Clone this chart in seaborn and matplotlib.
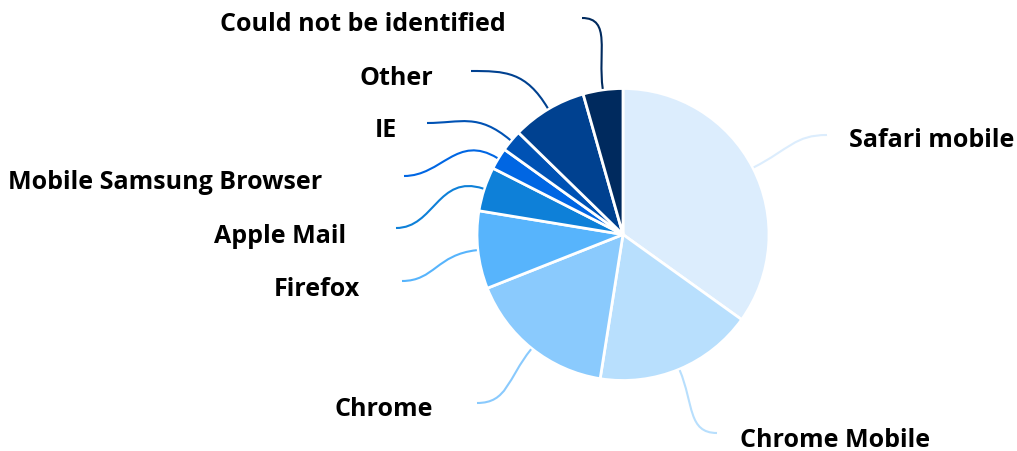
import numpy as np
import matplotlib
matplotlib.use("Agg")
import matplotlib.pyplot as plt
from matplotlib.path import Path
from matplotlib.patches import PathPatch
import seaborn as sns

# data (share of visits, %)
browsers = ["Safari mobile", "Chrome Mobile", "Chrome", "Firefox", "Apple Mail",
            "Mobile Samsung Browser", "IE", "Other", "Could not be identified"]
share = [34.9, 17.6, 16.5, 8.6, 4.9, 2.4, 2.4, 8.3, 4.4]
colors = ["#dcedfd", "#b8dffd", "#8acafd", "#57b4fc", "#0e80d8",
          "#0066e3", "#0052b4", "#004190", "#002a5e"]

# label layout in pixel space (x, baseline y, alignment) and connector end points
label_pos = [(849, 147, "left"), (740, 447, "left"), (433, 416, "right"),
             (360, 296, "right"), (346, 243, "right"), (322, 189, "right"),
             (397, 137, "right"), (433, 85, "right"), (506, 31, "right")]
line_end = [(827, 135), (717, 433), (477, 403), (402, 281), (396, 228),
            (404, 176), (427, 123), (471, 71), (582, 18)]

W, H = 1017, 451
cx, cy, R = 623, 234.5, 146

sns.set_theme(style="white")
plt.rcParams["font.family"] = ["Open Sans", "DejaVu Sans"]

fig = plt.figure(figsize=(W / 100, H / 100), dpi=100)
ax = fig.add_axes([0, 0, 1, 1])

pal = sns.color_palette(colors)
wedges, _ = ax.pie(share, colors=pal, startangle=90, counterclock=False,
                   center=(cx, H - cy), radius=R, frame=True,
                   wedgeprops=dict(edgecolor="white", linewidth=2))

for w, lbl, (tx, ty, ha), (ex, ey), c in zip(wedges, browsers, label_pos, line_end, pal):
    mid = np.deg2rad((w.theta1 + w.theta2) / 2)
    d = np.array([np.cos(mid), np.sin(mid)])
    p0 = np.array([cx, H - cy]) + d * (R + 1)
    p3 = np.array([ex, H - ey])
    dist = np.hypot(*(p3 - p0))
    p1 = p0 + d * dist * 0.5
    side = 1 if p3[0] < p0[0] else -1
    p2 = p3 + np.array([side * dist * 0.4, 0])
    path = Path([p0, p1, p2, p3], [Path.MOVETO, Path.CURVE4, Path.CURVE4, Path.CURVE4])
    ax.add_patch(PathPatch(path, facecolor="none", edgecolor=c, lw=1.5))
    ax.text(tx, H - ty, lbl, ha=ha, va="baseline", fontsize=18,
            fontweight="bold", color="black")

ax.set_xlim(0, W)
ax.set_ylim(0, H)
ax.set_aspect("equal")
ax.axis("off")

fig.savefig("out.png", dpi=100)
